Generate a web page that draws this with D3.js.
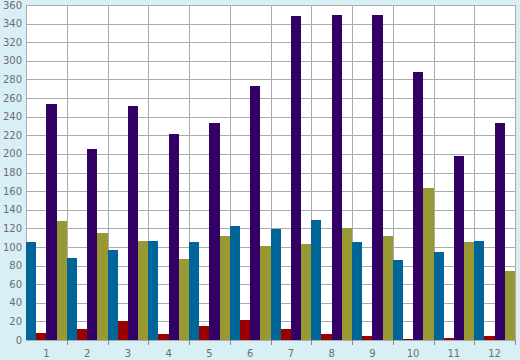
<!DOCTYPE html>
<html>
<head>
<meta charset="utf-8">
<script src="https://cdn.jsdelivr.net/npm/d3@7"></script>
<style>
  html, body { margin: 0; padding: 0; background: #d9eff6; }
  svg { display: block; }
  text { font-family: "DejaVu Sans", Verdana, sans-serif; font-size: 10px; fill: #6e6e6e; }
</style>
</head>
<body>
<svg id="chart" width="520" height="360"></svg>
<script>
const categories = ["1","2","3","4","5","6","7","8","9","10","11","12"];
const seriesNames = ["A","B","C","D"];
const seriesColors = ["#006699","#990000","#330066","#999933"];
const blueValues   = [105, 88, 97, 106, 105, 122, 119, 129, 105, 86, 95, 106];
const redValues    = [7, 12, 20, 6, 15, 21, 12, 6, 4, 1, 2, 4];
const purpleValues = [254, 205, 251, 221, 233, 273, 348, 349, 349, 288, 198, 233];
const oliveValues  = [128, 115, 106, 87, 112, 101, 103, 120, 112, 163, 105, 74];
const yTicks = [0,20,40,60,80,100,120,140,160,180,200,220,240,260,280,300,320,340,360];

const seriesValues = [blueValues, redValues, purpleValues, oliveValues];

const W = 520, H = 360;
const m = {left: 26, right: 5, top: 5, bottom: 20};
const svg = d3.select("#chart");

const x = d3.scaleBand().domain(categories).range([m.left, W - m.right]).padding(0);
const xs = d3.scaleBand().domain(seriesNames).range([0, x.bandwidth()]).padding(0);
const y = d3.scaleLinear().domain([0, 360]).range([H - m.bottom, m.top]);

// plot background
svg.append("rect")
  .attr("x", m.left).attr("y", m.top)
  .attr("width", W - m.left - m.right).attr("height", H - m.top - m.bottom)
  .attr("fill", "#ffffff");

const gridColor = "#ababab";
// horizontal grid
svg.append("g").selectAll("line").data(yTicks).join("line")
  .attr("x1", m.left).attr("x2", W - m.right)
  .attr("y1", d => Math.round(y(d)) + 0.5).attr("y2", d => Math.round(y(d)) + 0.5)
  .attr("stroke", gridColor).attr("stroke-width", 1);

// vertical grid at category boundaries (including both edges)
const boundaries = categories.map(c => x(c)).concat([x(categories[categories.length-1]) + x.bandwidth()]);
svg.append("g").selectAll("line").data(boundaries).join("line")
  .attr("x1", d => Math.round(d) + 0.5).attr("x2", d => Math.round(d) + 0.5)
  .attr("y1", m.top).attr("y2", H - m.bottom)
  .attr("stroke", gridColor).attr("stroke-width", 1);

// bars
const barData = [];
categories.forEach((c, i) => {
  seriesNames.forEach((s, j) => {
    barData.push({cat: c, ser: s, value: seriesValues[j][i], color: seriesColors[j]});
  });
});
svg.append("g").selectAll("rect").data(barData).join("rect")
  .attr("x", d => x(d.cat) + xs(d.ser))
  .attr("width", xs.bandwidth())
  .attr("y", d => y(d.value))
  .attr("height", d => y(0) - y(d.value))
  .attr("fill", d => d.color)
  .attr("shape-rendering", "crispEdges");

// y axis labels
svg.append("g").selectAll("text").data(yTicks).join("text")
  .attr("x", m.left - 4)
  .attr("y", d => y(d))
  .attr("dy", "0.36em")
  .attr("text-anchor", "end")
  .text(d => d);

// x axis tick marks (inner boundaries + right edge)
svg.append("g").selectAll("line").data(boundaries.slice(1)).join("line")
  .attr("x1", d => Math.round(d) + 0.5).attr("x2", d => Math.round(d) + 0.5)
  .attr("y1", H - m.bottom).attr("y2", H - m.bottom + 5)
  .attr("stroke", "#8a8a8a").attr("stroke-width", 1);

// x labels
svg.append("g").selectAll("text").data(categories).join("text")
  .attr("x", d => x(d) + x.bandwidth() / 2)
  .attr("y", H - 3)
  .attr("text-anchor", "middle")
  .text(d => d);
</script>
</body>
</html>
